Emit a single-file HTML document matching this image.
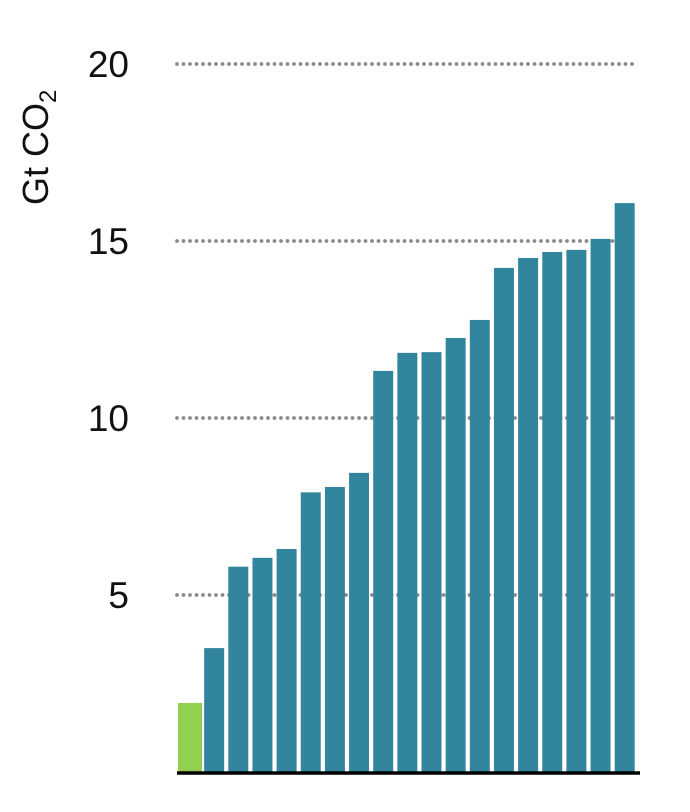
<!DOCTYPE html>
<html><head><meta charset="utf-8"><style>
html,body{margin:0;padding:0;background:#fff;}
svg{display:block;font-family:"Liberation Sans",sans-serif;}
</style></head><body>
<svg id="chart" width="690" height="812" viewBox="0 0 690 812"></svg>
<script>
const categories = ["c1","c2","c3","c4","c5","c6","c7","c8","c9","c10","c11","c12","c13","c14","c15","c16","c17","c18","c19"];
const values = [1.95,3.5,5.8,6.05,6.3,7.9,8.05,8.45,11.33,11.84,11.86,12.26,12.77,14.24,14.52,14.69,14.75,15.06,16.07];
const tickValues = [5,10,15,20];
const tickLabels = ["5","10","15","20"];
const NS="http://www.w3.org/2000/svg";
const svg=document.getElementById('chart');
const y0=772, pxPerUnit=35.4, x0=178, pitch=24.15;
function yScale(v){return y0-v*pxPerUnit;}
function xScale(i){return x0+i*pitch;}
function mk(tag,attrs,parent){const e=document.createElementNS(NS,tag);for(const k in attrs)e.setAttribute(k,attrs[k]);(parent||svg).appendChild(e);return e;}
tickValues.forEach((t,i)=>{
  const y=yScale(t);
  const g=mk('g',{fill:'#8a8a8a'});
  
  
  for(let x=177;x<=633;x+=6.5){mk('circle',{cx:x,cy:y,r:1.9},g);}
  const tx=mk('text',{x:129,y:y+13,'text-anchor':'end','font-size':37,fill:'#111'});
  tx.textContent=tickLabels[i];
  
  
});
values.forEach((v,i)=>{
  const first=i===0;
  const x=xScale(i)+(first?0:2);
  const w=first?24:20;
  const r=mk('rect',{x:x,y:yScale(v),width:w,height:y0-yScale(v),fill:first?'#92d050':'#31859c'});
  
  
});
const base=mk('line',{x1:177,x2:640,y1:773,y2:773,stroke:'#000','stroke-width':3.5});


const t=mk('text',{transform:'translate(48,205) rotate(-90)','font-size':36,fill:'#111'});


t.innerHTML='Gt CO<tspan font-size="24" dy="8">2</tspan>';
</script>
</body></html>
